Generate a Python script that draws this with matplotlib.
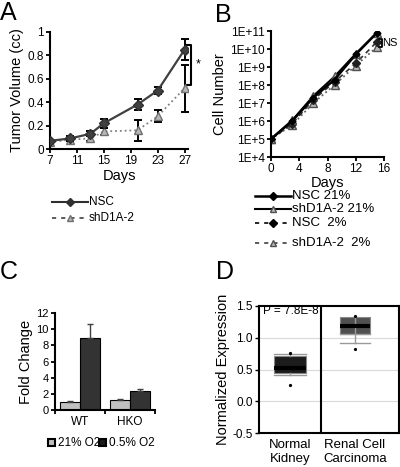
import math

import matplotlib
matplotlib.use("Agg")
import matplotlib.pyplot as plt
from matplotlib.lines import Line2D
from matplotlib.patches import Rectangle
from matplotlib.ticker import FixedLocator, FuncFormatter

plt.rcParams['font.family'] = ['Liberation Sans', 'DejaVu Sans']

# panel A: tumor volume
a_days = [7, 10, 13, 15, 20, 23, 27]
a_nsc = [0.07, 0.09, 0.13, 0.22, 0.38, 0.50, 0.85]
a_nsc_err = [0.01, 0.02, 0.02, 0.04, 0.05, 0.03, 0.09]
a_sh = [0.06, 0.08, 0.09, 0.15, 0.16, 0.28, 0.52]
a_sh_err = [0.01, 0.01, 0.02, 0.03, 0.09, 0.05, 0.20]
a_sig = (0.55, 0.89)

# panel B: cell number
b_days = [0, 3, 6, 9, 12, 15]
b_nsc21 = [1e5, 1.0e6, 2.0e7, 2.0e8, 5.0e9, 8.0e10]
b_sh21 = [1e5, 1.1e6, 2.5e7, 3.0e8, 5.5e9, 8.0e10]
b_nsc2 = [1e5, 7.0e5, 1.5e7, 1.5e8, 1.6e9, 2.5e10]
b_sh2 = [1e5, 6.0e5, 1.0e7, 1.0e8, 1.2e9, 1.3e10]
b_ns = (1.3e10, 3.5e10)
b_labels = ['NSC 21%', 'shD1A-2 21%', 'NSC  2%', 'shD1A-2  2%']

# panel C: fold change
c_groups = ['WT', 'HKO']
c_21 = [1.0, 1.2]
c_21_err = [0.1, 0.15]
c_05 = [8.9, 2.3]
c_05_err = [1.75, 0.3]
c_labels = ['21% O2', '0.5% O2']

# panel D: normalized expression boxes
d_labels = ['Normal\nKidney', 'Renal Cell\nCarcinoma']
d_q1 = [0.445, 1.06]
d_med = [0.52, 1.19]
d_q3 = [0.71, 1.33]
d_lo = [0.41, 0.91]
d_hi = [0.745, 1.06]
d_fliers = [[0.25, 0.76], [0.82, 1.345]]
d_p = 'P = 7.8E-8'

W, H = 400, 467
fig = plt.figure(figsize=(W / 100, H / 100), dpi=100)


def box(l, t, r, b):
    return [l / W, 1 - b / H, (r - l) / W, (b - t) / H]


def fx(x):
    return x / W


def fy(y):
    return 1 - y / H


def legend_row(x0, x1, y, label, ls, color, marker, mfc, mec, ms, size, lw=1.5):
    xm = (x0 + x1) / 2
    fig.add_artist(Line2D([fx(x0), fx(xm), fx(x1)], [fy(y)] * 3, ls=ls, color=color, lw=lw,
                          marker=marker, markevery=[1], mfc=mfc, mec=mec, ms=ms,
                          transform=fig.transFigure))
    fig.text(fx(x1 + 1), fy(y), label, fontsize=size, va='center', ha='left')


def two_spines(ax):
    for s in ['top', 'right']:
        ax.spines[s].set_visible(False)
    for s in ['left', 'bottom']:
        ax.spines[s].set_linewidth(1.5)


# ---------- A ----------
ax = fig.add_axes(box(50, 32, 188, 149))
ax.errorbar(a_days, a_sh, yerr=a_sh_err, ls=':', color='#808080', lw=1.3, marker='^',
            mfc='#b8b8b8', mec='#707070', ms=6, ecolor='black', elinewidth=1.4,
            capsize=3, capthick=1.4, zorder=2)
ax.errorbar(a_days, a_nsc, yerr=a_nsc_err, ls='-', color='#404040', lw=1.6, marker='D',
            mfc='#404040', mec='#303030', ms=5, ecolor='black', elinewidth=1.4,
            capsize=3, capthick=1.4, zorder=3)
ax.plot([27.4, 28.0, 28.0, 27.4], [a_sig[0], a_sig[0], a_sig[1], a_sig[1]], color='black',
        lw=1.5, clip_on=False)
ax.text(28.6, 0.72, '*', fontsize=9, va='center', clip_on=False)
ax.set_xlim(7, 27.5)
ax.set_ylim(0, 1)
ax.set_xticks([7, 11, 15, 19, 23, 27])
ax.set_yticks([0, 0.2, 0.4, 0.6, 0.8, 1.0])
ax.yaxis.set_major_formatter(FuncFormatter(lambda v, p: '%g' % round(v, 1)))
ax.set_xlabel('Days', fontsize=10.5, labelpad=1)
ax.set_ylabel('Tumor Volume (cc)', fontsize=10.5, labelpad=2)
ax.tick_params(labelsize=8.5, width=1.3, length=3, pad=1.5)
two_spines(ax)

legend_row(52, 88, 202, 'NSC', '-', '#303030', 'D', '#303030', '#303030', 4, 8.5)
legend_row(52, 88, 218, 'shD1A-2', (0, (2.5, 3)), '#404040', '^', '#b8b8b8', '#707070', 5, 8.5,
           lw=1.2)

# ---------- B ----------
ax = fig.add_axes(box(271, 31, 384, 157))
ax.plot(b_days, b_sh2, ls=':', color='#606060', lw=1.3, marker='^', mfc='#b8b8b8',
        mec='#505050', ms=6)
ax.plot(b_days, b_nsc2, ls=(0, (3, 2.5)), color='#303030', lw=1.2, marker='D', mfc='#202020',
        mec='#202020', ms=4)
ax.plot(b_days, b_sh21, ls='-', color='black', lw=1.4, marker='^', mfc='#b8b8b8',
        mec='#505050', ms=6)
ax.plot(b_days, b_nsc21, ls='-', color='black', lw=1.8, marker='D', mfc='black',
        mec='black', ms=3.5)
ax.plot([15.35, 15.65, 15.65, 15.35], [b_ns[0], b_ns[0], b_ns[1], b_ns[1]], color='black',
        lw=1.3, clip_on=False)
ax.text(15.75, (b_ns[0] * b_ns[1]) ** 0.5, 'NS', fontsize=8, va='center', clip_on=False)
ax.set_yscale('log')
ax.set_xlim(0, 16)
ax.set_ylim(1e4, 1e11)
ax.set_xticks([0, 4, 8, 12, 16])
ax.yaxis.set_major_locator(FixedLocator([10.0 ** k for k in range(4, 12)]))
ax.yaxis.set_minor_locator(FixedLocator([]))
ax.yaxis.set_major_formatter(FuncFormatter(lambda v, p: '1E+%d' % round(math.log10(v))))
ax.set_xlabel('Days', fontsize=10.5, labelpad=0.5)
ax.set_ylabel('Cell Number', fontsize=10.5, labelpad=2)
ax.tick_params(labelsize=8.5, width=1.3, length=3, pad=1.5)
two_spines(ax)

styles_b = [('-', 'black', 'D', 'black', 'black', 4, 1.8),
            ('-', 'black', '^', '#b8b8b8', '#505050', 5, 1.5),
            ((0, (2.5, 3)), 'black', 'D', 'black', 'black', 4, 1.2),
            ((0, (2.5, 3)), '#404040', '^', '#b8b8b8', '#505050', 5, 1.2)]
for lab, y, st in zip(b_labels, [196, 209, 223, 243], styles_b):
    legend_row(255, 291, y, lab, st[0], st[1], st[2], st[3], st[4], st[5], 9.5, lw=st[6])

# ---------- C ----------
ax = fig.add_axes(box(55, 313, 155, 410))
xc = [0.5, 1.5]
ax.bar([x - 0.2 for x in xc], c_21, width=0.4, color='#c0c0c0', edgecolor='black', lw=0.8,
       yerr=[[0, 0], c_21_err], error_kw=dict(ecolor='#404040', elinewidth=1, capsize=2.5))
ax.bar([x + 0.2 for x in xc], c_05, width=0.4, color='#333333', edgecolor='black', lw=0.8,
       yerr=[[0, 0], c_05_err], error_kw=dict(ecolor='#404040', elinewidth=1, capsize=2.5))
ax.set_xlim(0, 2)
ax.set_ylim(0, 12)
ax.set_xticks([0, 1, 2])
ax.set_xticklabels([])
ax.set_xticks(xc, minor=True)
ax.set_xticklabels(c_groups, minor=True, fontsize=8.5)
ax.tick_params(axis='x', which='minor', length=0, pad=4)
ax.set_yticks(range(0, 13, 2))
ax.set_ylabel('Fold Change', fontsize=10.5, labelpad=2)
ax.tick_params(axis='y', labelsize=8, pad=1.5)
ax.tick_params(which='major', width=1.3, length=3)
two_spines(ax)

for (x0, lab, col) in zip([48, 99], c_labels, ['#c0c0c0', '#1a1a1a']):
    fig.add_artist(Rectangle((fx(x0), fy(446)), 7 / W, 7 / H, facecolor=col, edgecolor='black',
                             lw=1.5, transform=fig.transFigure))
    fig.text(fx(x0 + 10), fy(442.5), lab, fontsize=8.5, va='center', ha='left')

# ---------- D ----------
ax = fig.add_axes(box(259, 306, 399, 433))
pos = [1.0, 2.05]
stats = []
for i in range(2):
    stats.append(dict(med=d_med[i], q1=d_q1[i], q3=d_q3[i], whislo=d_lo[i], whishi=d_hi[i],
                      fliers=d_fliers[i]))
bp = ax.bxp(stats, positions=pos, widths=[0.52, 0.47], patch_artist=True,
            boxprops=dict(lw=0.8, edgecolor='#888888'),
            medianprops=dict(color='black', lw=3),
            whiskerprops=dict(color='#999999', lw=1),
            capprops=dict(color='#999999', lw=1),
            flierprops=dict(marker='o', ms=1.3, mfc='black', mec='black'),
            capwidths=[0.52, 0.47])
for patch, col in zip(bp['boxes'], ['#1c1c1c', '#505050']):
    patch.set_facecolor(col)
ax.axvline(1.5, color='black', lw=1.5)
for v in [0.0, 0.5, 1.0]:
    ax.axhline(v, color='#d9d9d9', lw=0.8, zorder=0)
ax.set_xlim(0.5, 2.76)
ax.set_ylim(-0.5, 1.5)
ax.set_yticks([-0.5, 0.0, 0.5, 1.0, 1.5])
ax.yaxis.set_major_formatter(FuncFormatter(lambda v, p: '%.1f' % v))
ax.set_xticks(pos)
ax.set_xticklabels(d_labels, fontsize=9.5, linespacing=1.3)
ax.tick_params(axis='x', length=0, pad=4)
ax.tick_params(axis='y', labelsize=8.5, width=1, length=3, pad=1.5)
ax.set_ylabel('Normalized Expression', fontsize=10.5, labelpad=2)
ax.text(0.56, 1.42, d_p, fontsize=8.5, va='center', ha='left')
for s in ax.spines.values():
    s.set_linewidth(1.5)

# panel letters
fig.text(fx(0), fy(1), 'A', fontsize=18, va='top', ha='left')
fig.text(fx(215), fy(3), 'B', fontsize=18, va='top', ha='left')
fig.text(fx(0), fy(260), 'C', fontsize=18, va='top', ha='left')
fig.text(fx(216), fy(260), 'D', fontsize=18, va='top', ha='left')

fig.savefig('out.png', dpi=100)
